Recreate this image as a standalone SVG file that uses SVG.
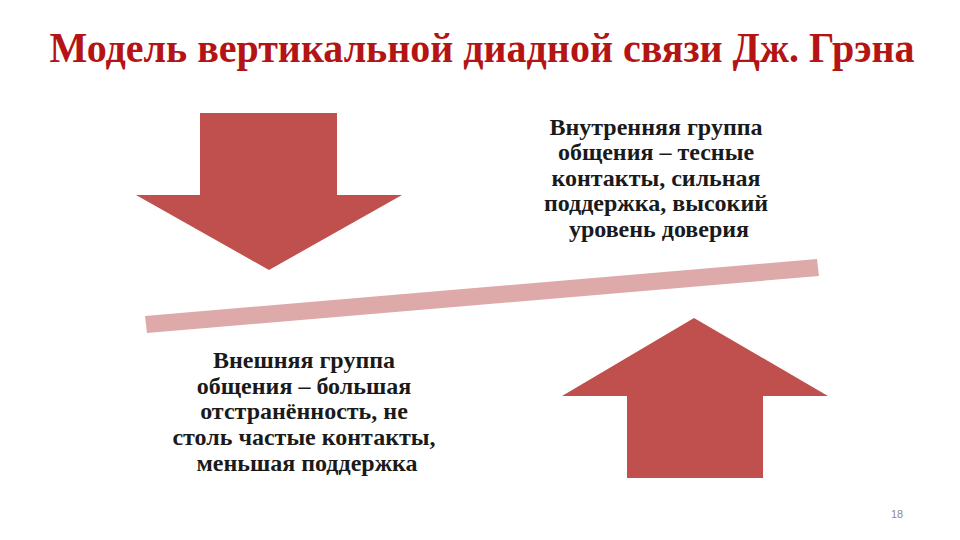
<svg xmlns="http://www.w3.org/2000/svg" width="960" height="540" viewBox="0 0 960 540">
<style>
.arrow{fill:#C0504D}
.body{font-family:"Liberation Serif","Times New Roman",serif;font-weight:bold;font-size:24px;fill:#1a1a1a;text-anchor:middle}
.title{font-family:"Liberation Serif","Times New Roman",serif;font-weight:bold;font-size:42px;fill:#B41414}
</style>
<rect width="960" height="540" fill="#ffffff"/>
<text class="title" x="482" y="62" text-anchor="middle" textLength="865" lengthAdjust="spacingAndGlyphs">Модель вертикальной диадной связи Дж. Грэна</text>
<g id="down-arrow">
<polygon class="arrow" points="200,113 337,113 337,195 402,195 269,270 136,195 200,195"/>
</g>
<g id="up-arrow">
<polygon class="arrow" points="694,318 828,396 763,396 763,478 627,478 627,396 562,396"/>
</g>
<g id="balance-bar">
<polygon fill="#DDA9A9" points="145,316 817,259 819,276 147,333"/>
</g>
<g id="inner-group">
<text class="body">
<tspan x="659" y="135">Внутренняя группа</tspan>
<tspan x="659" y="160">общения – тесные</tspan>
<tspan x="659" y="186">контакты, сильная</tspan>
<tspan x="659" y="211">поддержка, высокий</tspan>
<tspan x="659" y="237">уровень доверия</tspan>
</text>
</g>
<g id="outer-group">
<text class="body">
<tspan x="307" y="368">Внешняя группа</tspan>
<tspan x="307" y="394">общения – большая</tspan>
<tspan x="307" y="419">отстранённость, не</tspan>
<tspan x="307" y="445">столь частые контакты,</tspan>
<tspan x="307" y="471">меньшая поддержка</tspan>
</text>
</g>
<g id="connectors"></g>
<text x="897" y="518" font-family="'Liberation Sans',Arial,sans-serif" font-size="11" fill="#8C8C8C" text-anchor="middle">18</text>
</svg>
